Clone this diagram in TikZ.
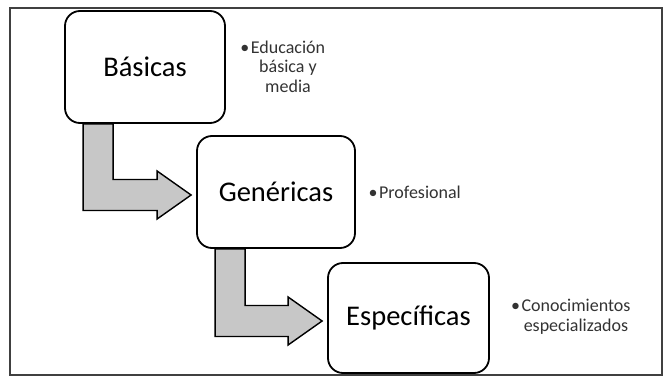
\documentclass[tikz,border=0pt]{standalone}
\usepackage{fontspec}
\setmainfont{Carlito}
\usetikzlibrary{calc,backgrounds}
\tikzset{
  stagebox/.style={draw=black, line width=1.8pt, rounded corners=15pt, fill=white,
    font=\fontsize{28.5}{32}\selectfont, text=black, inner sep=0pt},
  bullettext/.style={align=center, font=\fontsize{18}{19.5}\selectfont, text=black!80, inner sep=0pt},
  bentarrow/.style={draw=black, line width=1.4pt, fill=black!22, line join=miter},
  framebox/.style={draw=black!75, line width=1.3pt}
}
\newcommand\mybentarrow[2]{%
  \path[bentarrow] let \p1=(#1.south west), \p2=(#2.west) in
    (\x1+19pt,\y1) -- (\x1+19pt,\y2-18.5pt) -- (\x2-39pt,\y2-18.5pt) -- (\x2-39pt,\y2-27pt)
    -- (\x2-5pt,\y2-3pt) -- (\x2-39pt,\y2+21pt) -- (\x2-39pt,\y2+12.5pt)
    -- (\x1+49pt,\y2+12.5pt) -- (\x1+49pt,\y1) -- cycle;}
\begin{document}
\begin{tikzpicture}[x=1pt,y=-1pt]
\node[stagebox, minimum width=160pt, minimum height=112pt] (b1) at (145,67) {Básicas};
\node[stagebox, minimum width=158pt, minimum height=112pt] (b2) at (276,192) {Genéricas};
\node[stagebox, minimum width=161pt, minimum height=110pt] (b3) at (408.5,318) {Específicas};
\node[bullettext] (t1) at (288,66.5) {\llap{•\hspace{1.5pt}}Educación\\básica y\\media};
\node[bullettext] (t2) at (420,192) {\llap{•\hspace{1.5pt}}Profesional};
\node[bullettext] (t3) at (576,317) {\llap{•\hspace{1.5pt}}Conocimientos\\especializados};
\begin{scope}[on background layer]
  \fill[white] (0,0) rectangle (665,377);
  \draw[framebox] (10,8) rectangle (662,375);
  \mybentarrow{b1}{b2}
  \mybentarrow{b2}{b3}
\end{scope}
\useasboundingbox (0,0) rectangle (665,377);
\end{tikzpicture}
\end{document}
